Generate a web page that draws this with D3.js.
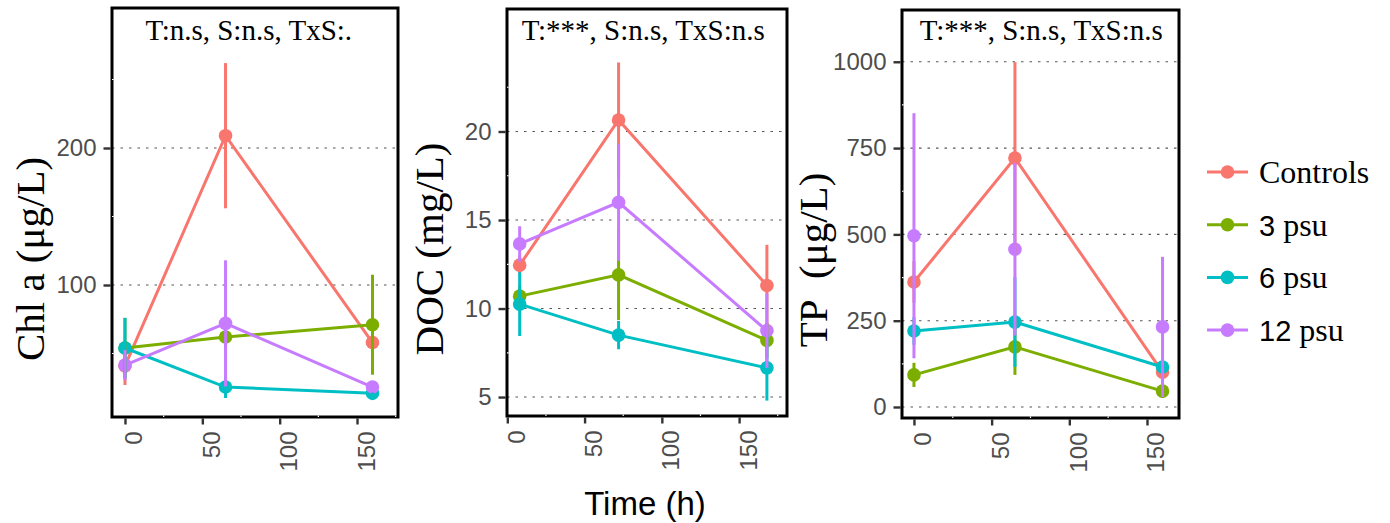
<!DOCTYPE html>
<html lang="en">
<head>
<meta charset="UTF-8">
<title>Chl a, DOC and TP over time</title>
<script src="https://d3js.org/d3.v7.min.js"></script>
<style>
    body { margin: 0; background: #fff; }
    svg { display: block; }
    .serif { font-family: "Liberation Serif", "Times New Roman", serif; }
    .sans { font-family: "Liberation Sans", Arial, sans-serif; }
</style>
</head>
<body>
<script>
    // treatment groups, ggplot default hues
    const groups = ["Controls", "3 psu", "6 psu", "12 psu"];
    const colors = ["#F8766D", "#7CAE00", "#00BFC4", "#C77CFF"];

    // Chl a (ug/L): rows follow groups, columns follow sampling times
    const chlTime = [0, 65, 160];
    const chlMean = [[41, 209, 58], [54, 62, 71], [54, 25.5, 21], [41.5, 72, 25.5]];
    const chlErr  = [[14, 53, 10], [22, 8, 36.5], [22, 8, 5], [11, 46, 4]];

    // DOC (mg/L)
    const docTime = [8, 72, 168];
    const docMean = [[12.45, 20.65, 11.3], [10.7, 11.9, 8.2], [10.25, 8.5, 6.65], [13.65, 16.0, 8.75]];
    const docErr  = [[0.5, 3.25, 2.3], [0.6, 2.55, 1.0], [1.8, 0.8, 1.85], [1.0, 3.3, 2.1]];

    // TP (ug/L)
    const tpTime = [0, 65, 160];
    const tpMean = [[362, 721, 101], [93, 174, 46], [220, 246, 116], [496, 457, 232]];
    const tpErr  = [[60, 278, 20], [35, 81, 20], [40, 130, 20], [355, 250, 203]];

    const xTicks = [0, 50, 100, 150];
    const xMinor = [25, 75, 125, 175];

    const panels = [
        { time: chlTime, mean: chlMean, err: chlErr, noLine: [],
          yTicks: [100, 200], yMinor: [50, 150, 250],
          label: "Chl a (\u03bcg/L)", note: "T:n.s, S:n.s, TxS:.",
          left: 112, right: 398, top: 8, bottom: 417,
          xDomain: [-8.4, 176.5], yDomain: [3.65, 302.2], noteX: 80, labelX: 44, labelY: 259 },
        { time: docTime, mean: docMean, err: docErr, noLine: [],
          yTicks: [5, 10, 15, 20], yMinor: [7.5, 12.5, 17.5, 22.5],
          label: "DOC (mg/L)", note: "T:***, S:n.s, TxS:n.s",
          left: 507, right: 787, top: 9, bottom: 416,
          xDomain: [-0.2, 181], yDomain: [3.93, 26.92], noteX: 88, labelX: 443, labelY: 249 },
        // the 12 psu series has no connecting line in this panel
        { time: tpTime, mean: tpMean, err: tpErr, noLine: ["12 psu"],
          yTicks: [0, 250, 500, 750, 1000], yMinor: [125, 375, 625, 875],
          label: "TP\u00a0 (\u03bcg/L)", note: "T:***, S:n.s, TxS:n.s",
          left: 902, right: 1179, top: 10, bottom: 418,
          xDomain: [-7.7, 170.6], yDomain: [-31.9, 1150], noteX: 82, labelX: 827, labelY: 260 }
    ];

    const svg = d3.select("body").append("svg")
        .attr("width", 1390)
        .attr("height", 523);

    panels.forEach(p => {
        const x = d3.scaleLinear().domain(p.xDomain).range([p.left, p.right]);
        const y = d3.scaleLinear().domain(p.yDomain).range([p.bottom, p.top]);
        const g = svg.append("g");

        // dotted major grid
        g.selectAll(".grid").data(p.yTicks).join("line")
            .attr("x1", p.left).attr("x2", p.right)
            .attr("y1", d => y(d)).attr("y2", d => y(d))
            .attr("stroke", "#555").attr("stroke-width", 1.1)
            .attr("stroke-dasharray", "2.5,6");

        // axes
        const ya = g.append("g")
            .attr("transform", `translate(${p.left - 1.5},0)`)
            .call(d3.axisLeft(y).tickValues(p.yTicks).tickFormat(d3.format("d")).tickSize(7).tickPadding(7));
        const xa = g.append("g")
            .attr("transform", `translate(0,${p.bottom + 1.5})`)
            .call(d3.axisBottom(x).tickValues(xTicks).tickFormat(d3.format("d")).tickSize(6));
        [ya, xa].forEach(a => {
            a.select(".domain").remove();
            a.selectAll("line").attr("stroke", "#333").attr("stroke-width", 2.4);
            a.selectAll("text").attr("class", "sans").attr("font-size", 24).attr("fill", "#4d4d4d");
        });
        xa.selectAll("text")
            .attr("transform", "rotate(-90)")
            .attr("text-anchor", "end")
            .attr("dy", 0)
            .attr("x", -13)
            .attr("y", 17);

        // panel border
        g.append("rect")
            .attr("x", p.left).attr("y", p.top)
            .attr("width", p.right - p.left).attr("height", p.bottom - p.top)
            .attr("fill", "none").attr("stroke", "#000").attr("stroke-width", 3);

        // white minor grid marks cutting into the border
        g.selectAll(".ym").data(p.yMinor).join("line")
            .attr("x1", p.left).attr("x2", p.left + 1.6)
            .attr("y1", d => y(d)).attr("y2", d => y(d))
            .attr("stroke", "#fff").attr("stroke-width", 1.2);
        g.selectAll(".xm").data(xMinor.filter(d => x(d) < p.right)).join("line")
            .attr("x1", d => x(d)).attr("x2", d => x(d))
            .attr("y1", p.bottom - 1.6).attr("y2", p.bottom)
            .attr("stroke", "#fff").attr("stroke-width", 1.2);

        const line = d3.line().x(d => x(d.t)).y(d => y(d.v));
        const rows = groups.map((name, i) => p.time.map((t, j) => ({ t, v: p.mean[i][j], e: p.err[i][j], i })));

        g.selectAll(".series").data(rows.filter((r, i) => !p.noLine.includes(groups[i]))).join("path")
            .attr("d", line)
            .attr("fill", "none")
            .attr("stroke", d => colors[d[0].i])
            .attr("stroke-width", 3);

        g.selectAll(".pt").data(rows.flat()).join("circle")
            .attr("cx", d => x(d.t)).attr("cy", d => y(d.v))
            .attr("r", 6.8)
            .attr("fill", d => colors[d.i]);

        g.selectAll(".eb").data(rows.flat()).join("line")
            .attr("x1", d => x(d.t)).attr("x2", d => x(d.t))
            .attr("y1", d => y(d.v - d.e)).attr("y2", d => y(d.v + d.e))
            .attr("stroke", d => colors[d.i])
            .attr("stroke-width", 3);

        // significance note inside the panel
        g.append("text")
            .attr("class", "serif")
            .attr("x", x(p.noteX)).attr("y", 39.5)
            .attr("text-anchor", "middle")
            .attr("font-size", 29)
            .text(p.note);

        // y axis title
        g.append("text")
            .attr("class", "serif")
            .attr("transform", `translate(${p.labelX},${p.labelY}) rotate(-90)`)
            .attr("text-anchor", "middle")
            .attr("font-size", 41)
            .text(p.label);
    });

    svg.append("text")
        .attr("class", "sans")
        .attr("x", 645).attr("y", 515)
        .attr("text-anchor", "middle")
        .attr("font-size", 33)
        .text("Time (h)");

    // legend
    const legend = svg.append("g").attr("transform", "translate(1207,172)");
    const item = legend.selectAll("g").data(groups).join("g")
        .attr("transform", (d, i) => `translate(0,${i * 52.7})`);
    item.append("line")
        .attr("x1", 0).attr("x2", 41)
        .attr("stroke", (d, i) => colors[i]).attr("stroke-width", 3);
    item.append("circle")
        .attr("cx", 20.5).attr("r", 6.8)
        .attr("fill", (d, i) => colors[i]);
    const label = item.append("text")
        .attr("x", 52).attr("y", 11)
        .attr("font-size", 32);
    // numbers came out in a sans face, words in serif
    label.each(function(d) {
        const m = d.match(/^(\d+)(.*)$/);
        const t = d3.select(this);
        if (m) {
            t.append("tspan").attr("class", "sans").attr("font-size", 29).text(m[1]);
            t.append("tspan").attr("class", "serif").text(m[2]);
        } else {
            t.append("tspan").attr("class", "serif").text(d);
        }
    });
</script>
</body>
</html>
